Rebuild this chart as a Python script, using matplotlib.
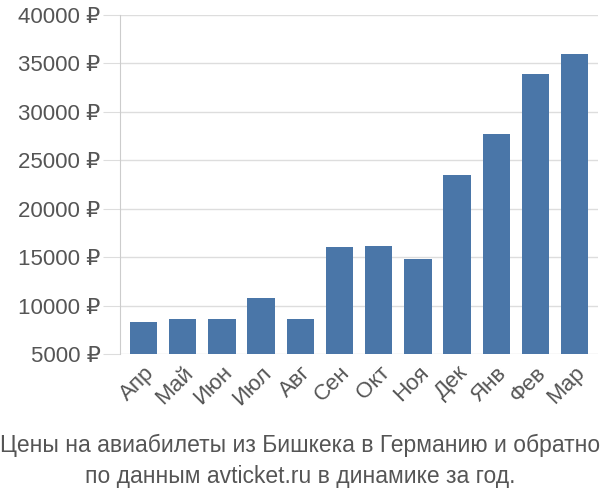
import matplotlib
matplotlib.use('Agg')
import matplotlib.pyplot as plt

months = ['Апр', 'Май', 'Июн', 'Июл', 'Авг', 'Сен', 'Окт', 'Ноя', 'Дек', 'Янв', 'Фев', 'Мар']
prices = [8300, 8600, 8600, 10800, 8600, 16000, 16200, 14800, 23500, 27700, 33900, 36000]
yticks = [5000, 10000, 15000, 20000, 25000, 30000, 35000, 40000]

plt.rcParams['font.family'] = ['Liberation Sans', 'DejaVu Sans']
fig = plt.figure(figsize=(6, 5), dpi=100)
ax = fig.add_axes([0.2, 0.292, 0.797, 0.678])

x = range(len(months))
ax.bar(x, [p - 5000 for p in prices], bottom=5000, width=0.7, color='#4a76a8', zorder=3)
ax.set_ylim(5000, 40000)
ax.set_xlim(-0.6, len(months) - 0.4)
ax.set_yticks(yticks)
ax.set_yticklabels([f'{v} ₽' for v in yticks], fontsize=16, color='#555555')
ax.set_xticks(list(x))
ax.set_xticklabels(months, rotation=45, ha='right', rotation_mode='anchor', fontsize=16, color='#555555')
ax.grid(axis='y', color='#dddddd', linewidth=1, zorder=0)
for s in ['top', 'right', 'bottom']:
    ax.spines[s].set_visible(False)
ax.spines['left'].set_color('#cccccc')
ax.tick_params(axis='y', length=12, color='#dddddd', pad=2)
ax.tick_params(axis='x', length=0, pad=6)

fig.text(0.5, 0.078, 'Цены на авиабилеты из Бишкека в Германию и обратно\nпо данным avticket.ru в динамике за год.',
         ha='center', va='center', fontsize=16.5, color='#555555', linespacing=1.4)
fig.savefig('out.png', dpi=100)
